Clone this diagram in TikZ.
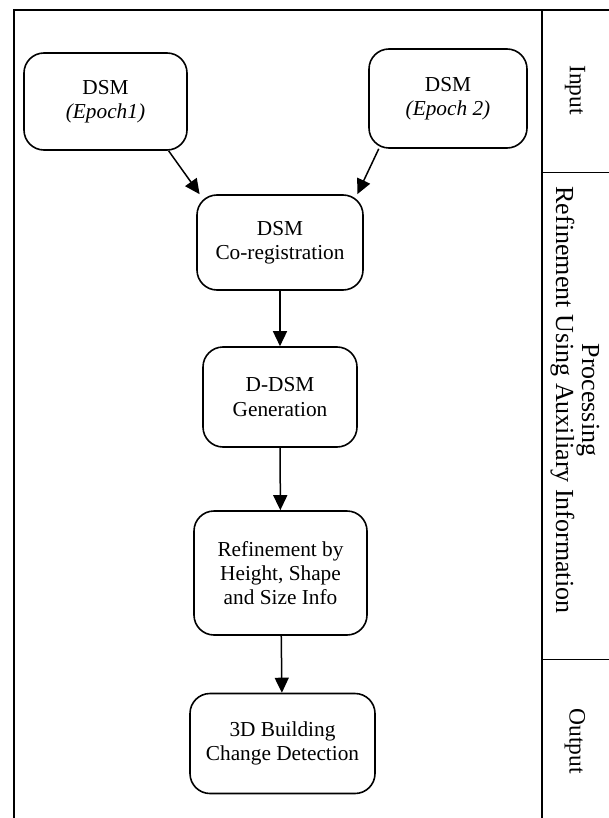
\documentclass[tikz,border=0pt]{standalone}
\usepackage{fontspec}
\setmainfont{Liberation Serif}
\usetikzlibrary{arrows.meta}
\tikzset{
  procbox/.style={draw, line width=1.6pt, rounded corners=20pt, align=center, inner sep=0pt,
    font=\fontsize{21.3}{24.3}\selectfont},
  flowarrow/.style={line width=1.5pt, -{Triangle[length=15pt,width=14pt]}},
  frameline/.style={line width=1.5pt},
  sidelabel/.style={rotate=-90, align=center, inner sep=0pt, font=\fontsize{23.5}{25}\selectfont},
  sidelabelbig/.style={rotate=-90, align=center, inner sep=0pt, font=\fontsize{26}{26}\selectfont}
}
\begin{document}
\begin{tikzpicture}[x=1pt,y=-1pt]
\useasboundingbox (0,0) rectangle (608,818);
% frame
\draw[frameline] (14,818) -- (14,10) -- (612,10);
\draw[frameline] (542,10) -- (542,818);
\draw[frameline] (542,172.3) -- (612,172.3);
\draw[frameline] (542,659.3) -- (612,659.3);
% side labels
\node[sidelabel] (lin) at (575,90) {Input};
\node[sidelabelbig] (lproc) at (575,400) {Processing\\Refinement Using Auxiliary Information};
\node[sidelabel] (lout) at (575,741) {Output};
% boxes
\node[procbox, minimum width=163pt, minimum height=97pt] (ep1) at (105.5,101.5) {DSM\\\textit{(Epoch1)}};
\node[procbox, minimum width=158pt, minimum height=99pt] (ep2) at (448,98.5) {DSM\\\textit{(Epoch 2)}};
\node[procbox, minimum width=166pt, minimum height=95pt] (coreg) at (280,242.5) {DSM\\Co-registration};
\node[procbox, minimum width=154pt, minimum height=100pt] (ddsm) at (280,397) {D-DSM\\Generation};
\node[procbox, minimum width=173pt, minimum height=124pt] (refine) at (280.5,573) {Refinement by\\Height, Shape\\and Size Info};
\node[procbox, minimum width=185pt, minimum height=100pt] (out) at (282.5,743.5) {3D Building\\Change Detection};
% arrows
\draw[flowarrow] (ep1.-38) -- (coreg.149);
\draw[flowarrow] (ep2.-144) -- (coreg.32);
\draw[flowarrow] (coreg) -- (ddsm);
\draw[flowarrow] (ddsm) -- (refine);
\draw[flowarrow] (refine) -- (out);
\end{tikzpicture}
\end{document}
